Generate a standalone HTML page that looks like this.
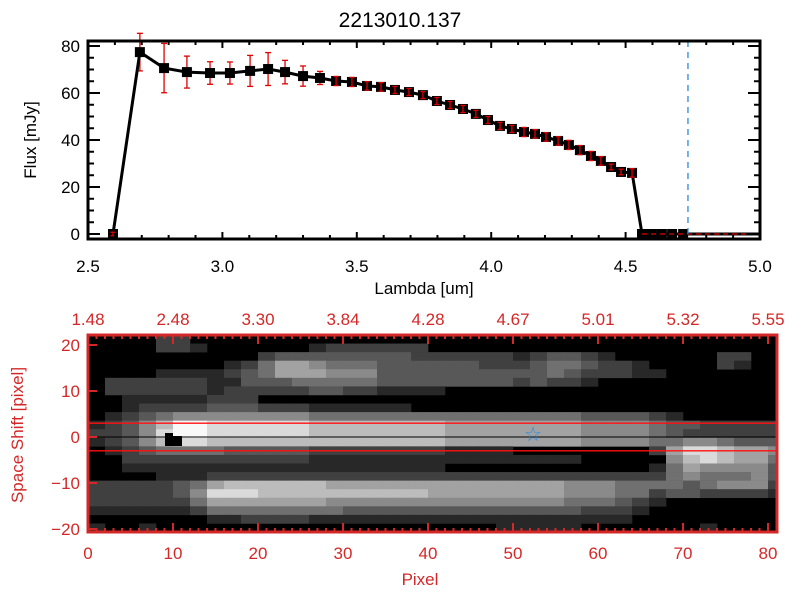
<!DOCTYPE html>
<html><head><meta charset="utf-8">
<style>
html,body{margin:0;padding:0;background:#fff;}
svg{display:block;font-family:"Liberation Sans",sans-serif;}
</style></head>
<body>
<svg id="chart" width="800" height="600" viewBox="0 0 800 600" xmlns="http://www.w3.org/2000/svg">
<rect x="0" y="0" width="800" height="600" fill="#fff"/>
<text x="400" y="27" text-anchor="middle" font-size="21" fill="#000">2213010.137</text>
<g id="top"></g>
<g id="bot"></g>
</svg>
<script>
// ---- spectrum data ----
const lambdas = [2.593,2.693,2.783,2.868,2.954,3.028,3.103,3.170,3.233,3.300,3.363,3.423,3.482,3.538,3.590,3.642,3.694,3.746,3.798,3.847,3.895,3.943,3.988,4.033,4.077,4.122,4.163,4.204,4.249,4.289,4.330,4.371,4.408,4.446,4.483,4.524,4.561,4.598,4.635,4.673,4.714];
const fluxes = [0,77.4,70.6,68.9,68.5,68.5,69.4,70.2,68.9,67.2,66.4,65.1,64.7,63.0,62.6,61.3,60.4,59.1,56.6,54.9,53.2,51.1,48.5,46.0,44.7,43.4,42.6,41.3,39.6,37.9,35.7,33.2,31.1,28.5,26.4,26.0,0,0,0,0,0];
const errors = [0.5,8,10.5,6.8,4.8,4.7,6.6,7,5,4.3,2.8,1.3,1.3,1.2,1.2,1,1,1,1,1,1,1,1,1,1,1.3,1.2,1.2,1.2,1.3,1.3,1.3,1.2,0.8,0.8,1.2,0,0,0,0,0];
const xTicks = ["2.5","3.0","3.5","4.0","4.5","5.0"];
const yTicks = ["0","20","40","60","80"];
const cutLambda = 4.732;

// ---- image data ----
const pixTickLabels = ["0","10","20","30","40","50","60","70","80"];
const topTickLabels = ["1.48","2.48","3.30","3.84","4.28","4.67","5.01","5.32","5.55"];
const shiftTicks = ["20","10","0","-10","-20"];
const imageRows = [
"00002200000000000000000000000000000000000",
"00002210000001222222000000000000000000000",
"00000000002333333332222221233210000002200",
"00000000124665444333333222344322100002100",
"00001111234666555333333333343222110000000",
"02222221133344444333333332322100000000000",
"02222221222223322111100000000000000000000",
"00111112220000000000000000000000000000000",
"00122223332221111110000000000000000000000",
"01234555555554444444444444444333321000000",
"12357998888887777777766666666555543322222",
"22358998888887777777766666666555543222222",
"12357887777777777777766666666555544554333",
"01234444333332222222211110000000026887665",
"00222222222221111111111111111000005787664",
"00111111111111111111100000000000014655553",
"00001112222222222222222222222222224544453",
"22222346777777666666666666665554444345552",
"22222358887777777777666666665554423322221",
"22222246666666555555555555554443210000000",
"11111124444444433333333333333222100000000",
"00000001122221111111111111111111000000000",
"10010000000000000000000011111000000010000"
];
const grayLevels = [0,40,64,88,112,138,162,188,218,248];

const NS="http://www.w3.org/2000/svg";
function el(tag,attrs,parent){const e=document.createElementNS(NS,tag);for(const k in attrs)e.setAttribute(k,attrs[k]);parent.appendChild(e);return e;}

// ===== Top plot =====
const T=document.getElementById('top');
const L=88,R=760,TT=41,TB=239;
const xs=v=>L+(v-2.5)/2.5*(R-L);
const ys=v=>234-v*(234-46)/80;
for(let i=0;i<lambdas.length;i++){
  if(errors[i]<=0) continue;
  const x=xs(lambdas[i]),y1=ys(fluxes[i]+errors[i]),y2=ys(fluxes[i]-errors[i]);
  const g=el('g',{stroke:'#e00000','stroke-width':1.3},T);
  
  
  el('line',{x1:x,x2:x,y1:y1,y2:y2},g);
  el('line',{x1:x-3,x2:x+3,y1:y1,y2:y1},g);
  el('line',{x1:x-3,x2:x+3,y1:y2,y2:y2},g);
}
let d='';
for(let i=0;i<=36;i++){d+=(i?'L':'M')+xs(lambdas[i]).toFixed(1)+' '+ys(fluxes[i]).toFixed(1);}
const ln=el('path',{d:d,fill:'none',stroke:'#000','stroke-width':3},T);


const zl=el('line',{x1:xs(lambdas[36]),x2:R,y1:ys(0),y2:ys(0),stroke:'#000','stroke-width':3},T);


for(let i=0;i<lambdas.length;i++){
  const x=xs(lambdas[i]),y=ys(fluxes[i]);
  const m=el('rect',{x:x-5,y:y-5,width:10,height:10,fill:'#000'},T);
  
  
  if(errors[i]>0&&errors[i]<2){
    const g=el('g',{stroke:'#e00000','stroke-width':1.3},T);
    
    
    const y1=ys(fluxes[i]+errors[i]*1.5),y2=ys(fluxes[i]-errors[i]*1.5);
    el('line',{x1:x,x2:x,y1:y1,y2:y2},g);
    el('line',{x1:x-2.5,x2:x+2.5,y1:y1,y2:y1},g);
    el('line',{x1:x-2.5,x2:x+2.5,y1:y2,y2:y2},g);
  }
}
const rd=el('line',{x1:xs(lambdas[36]),x2:R,y1:ys(0),y2:ys(0),stroke:'#e00000','stroke-width':1.3,'stroke-dasharray':'5,4'},T);


const cl=el('line',{x1:xs(cutLambda),x2:xs(cutLambda),y1:TT,y2:TB,stroke:'#2a8ae0','stroke-width':1.3,'stroke-dasharray':'6,5'},T);


const fr=el('rect',{x:L,y:TT,width:R-L,height:TB-TT,fill:'none',stroke:'#000','stroke-width':3},T);


for(let k=0;k<=25;k++){
  const x=xs(2.5+k*0.1),len=(k%5===0)?7:4;
  el('line',{x1:x,x2:x,y1:TB,y2:TB-len,stroke:'#000','stroke-width':2},T);
  el('line',{x1:x,x2:x,y1:TT,y2:TT+len,stroke:'#000','stroke-width':2},T);
}
xTicks.forEach((t,i)=>{
  const tx=el('text',{x:xs(parseFloat(t)),y:272,'text-anchor':'middle','font-size':17},T);
  tx.textContent=t;
  
  
});
for(let k=0;k<=16;k++){
  const y=ys(k*5),len=(k%4===0)?12:6;
  el('line',{x1:L,x2:L+len,y1:y,y2:y,stroke:'#000','stroke-width':2},T);
  el('line',{x1:R,x2:R-len,y1:y,y2:y,stroke:'#000','stroke-width':2},T);
}
yTicks.forEach(t=>{
  const tx=el('text',{x:80,y:ys(parseFloat(t))+6,'text-anchor':'end','font-size':17},T);
  tx.textContent=t;
  
  
});
const xt=el('text',{x:424,y:294,'text-anchor':'middle','font-size':17},T);
xt.textContent='Lambda [um]';


const yt=el('text',{x:0,y:0,'text-anchor':'middle','font-size':17,transform:'translate(36,140) rotate(-90)'},T);
yt.textContent='Flux [mJy]';



// ===== Bottom plot =====
const B=document.getElementById('bot');
const BL=88,BR=777,BT=335,BB=532,RED='#d42828';
const px=p=>BL+p*8.5;
const sy=s=>437-s*4.6;
const nRows=imageRows.length,cellH=(BB-BT)/nRows;
el('rect',{x:BL,y:BT,width:BR-BL,height:BB-BT,fill:'#000'},B);
imageRows.forEach((row,r)=>{
  for(let c=0;c<row.length;c++){
    const v=+row[c]; if(!v) continue;
    const g=grayLevels[v];
    const x0=px(2*c),x1=Math.min(px(2*c+2),BR);
    const cell=el('rect',{x:x0,y:BT+r*cellH,width:x1-x0+0.3,height:cellH+0.3,fill:`rgb(${g},${g},${g})`},B);
    
    
  }
});
const bk=el('path',{d:'M165 433 H173 V436 H182 V446 H165 Z',fill:'#000'},B);


[3,-3].forEach(s=>{
  const l=el('line',{x1:BL,x2:BR,y1:sy(s),y2:sy(s),stroke:'#ff1010','stroke-width':1.3},B);
  
  
});
const cen=el('line',{x1:BL,x2:BR,y1:sy(0),y2:sy(0),stroke:'#000','stroke-width':1},B);


const st=el('text',{x:533,y:441,'text-anchor':'middle','font-size':20,fill:'#2a8ae0'},B);
st.textContent='☆';


const bf=el('rect',{x:BL,y:BT,width:BR-BL,height:BB-BT,fill:'none',stroke:RED,'stroke-width':3},B);


for(let p=0;p<=81;p++){
  const x=px(p),len=(p%10===0)?9:4;
  el('line',{x1:x,x2:x,y1:BB,y2:BB-len,stroke:RED,'stroke-width':2},B);
  el('line',{x1:x,x2:x,y1:BT,y2:BT+len,stroke:RED,'stroke-width':2},B);
}
pixTickLabels.forEach(t=>{
  const tx=el('text',{x:px(+t),y:559,'text-anchor':'middle','font-size':17,fill:RED},B);
  tx.textContent=t;
  
  
});
topTickLabels.forEach((t,i)=>{
  const tx=el('text',{x:px(i*10),y:325,'text-anchor':'middle','font-size':17,fill:RED},B);
  tx.textContent=t;
  
  
});
shiftTicks.forEach(t=>{
  const y=sy(+t);
  el('line',{x1:BL,x2:BL+9,y1:y,y2:y,stroke:RED,'stroke-width':2},B);
  const tx=el('text',{x:80,y:y+6,'text-anchor':'end','font-size':17,fill:RED},B);
  tx.textContent=t.replace('-','−');
  
  
});
const pt=el('text',{x:420,y:585,'text-anchor':'middle','font-size':17,fill:RED},B);
pt.textContent='Pixel';


const st2=el('text',{x:0,y:0,'text-anchor':'middle','font-size':17,fill:RED,transform:'translate(23,435) rotate(-90)'},B);
st2.textContent='Space Shift [pixel]';


</script>
</body></html>
